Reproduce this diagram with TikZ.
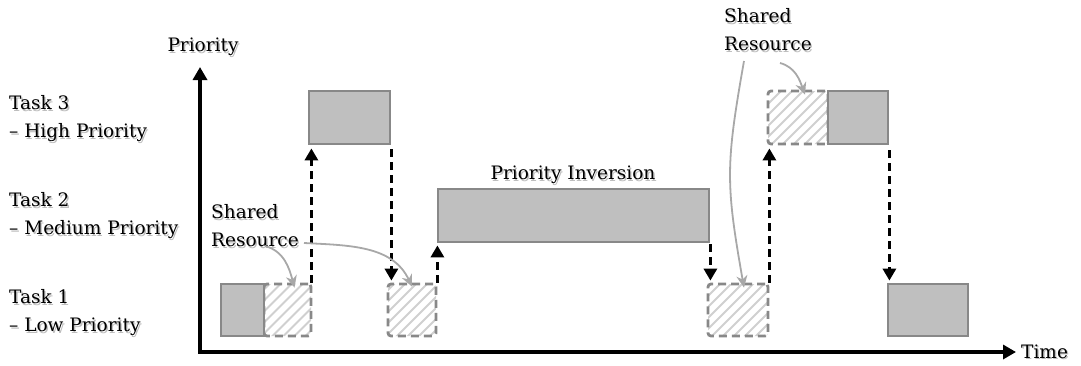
\documentclass[tikz,border=0pt]{standalone}
\usepackage{fontspec}
\setmainfont{DejaVu Serif}
\usetikzlibrary{arrows.meta}

\definecolor{boxfill}{HTML}{BFBFBF}
\definecolor{boxline}{HTML}{888888}
\definecolor{hatchcol}{HTML}{D0D0D0}
\definecolor{ptrcol}{HTML}{A8A8A8}
\definecolor{shadowcol}{HTML}{BDBDBD}

% text with a soft drop shadow: #1 options, #2 name, #3 position, #4 text
\newcommand\shadowtext[4]{%
  \node[#1, text=shadowcol, xshift=1.3pt, yshift=-1.3pt] at #3 {#4};
  \node[#1] (#2) at #3 {#4};}

\begin{document}
\begin{tikzpicture}[x=1pt,y=-1pt,
  txt/.style={font=\fontsize{18.5}{28}\selectfont, inner sep=0pt, align=left},
  busy/.style={draw=boxline, fill=boxfill, line width=2.8pt, inner sep=0pt},
  shared/.style={draw=boxline, line width=2.8pt, dash pattern=on 8pt off 5pt,
    rounded corners=3pt, inner sep=0pt,
    path picture={\foreach \i in {-80,-69,...,80}
      \draw[hatchcol, solid, line width=2pt]
        ([xshift=\i pt, yshift=-10pt]path picture bounding box.south) -- ++(80pt,80pt);}},
  axis/.style={line width=3.8pt, -{Triangle[length=13pt,width=14pt]}},
  hop/.style={line width=3pt, dash pattern=on 8pt off 5pt,
    -{Triangle[length=12pt,width=13pt]}},
  ptr/.style={draw=ptrcol, line width=1.8pt, -{Stealth[length=12pt,width=11pt]}}]

\useasboundingbox (0,0) rectangle (1081,365);

% axes
\coordinate (origin) at (200,352);
\coordinate (ytop) at (200,67);
\coordinate (xend) at (1016,352);
\draw[axis] (origin) -- (ytop);
\draw[axis] ([xshift=-1.9pt]origin) -- (xend);
\shadowtext{txt}{ylab}{(203,47)}{Priority}
\shadowtext{txt, anchor=west}{xlab}{(1021,352)}{Time}

% task rows
\shadowtext{txt, anchor=west}{task3}{(9,119)}{Task 3\\– High Priority}
\shadowtext{txt, anchor=west}{task2}{(9,216)}{Task 2\\– Medium Priority}
\shadowtext{txt, anchor=west}{task1}{(9,313)}{Task 1\\– Low Priority}

% shared-resource sections (hatched)
\node[shared, minimum width=47pt, minimum height=52pt] (h1) at (287.5,310) {};
\node[shared, minimum width=48pt, minimum height=52pt] (h2) at (412,310) {};
\node[shared, minimum width=60pt, minimum height=52pt] (h3) at (738,310) {};
\node[shared, minimum width=60pt, minimum height=53pt] (h4) at (798,117.5) {};

% ordinary execution
\node[busy, minimum width=43pt, minimum height=52pt] (s1) at (242.5,310) {};
\node[busy, minimum width=81pt, minimum height=53pt] (s2) at (349.5,117.5) {};
\node[busy, minimum width=271pt, minimum height=53pt] (s3) at (573.5,215.5) {};
\node[busy, minimum width=60pt, minimum height=53pt] (s4) at (858,117.5) {};
\node[busy, minimum width=80pt, minimum height=52pt] (s5) at (928,310) {};

\shadowtext{txt}{inv}{(573,175)}{Priority Inversion}

% context switches
\draw[hop] ([xshift=-1pt]h1.north east) -- ([xshift=-1pt,yshift=-3pt]h1.north east |- s2.south);
\draw[hop] ([yshift=-4pt]s2.south east) -- ([yshift=2pt]s2.south east |- h2.north);
\draw[hop] ([xshift=0pt]h2.north east) -- ([yshift=-2pt]h2.north east |- s3.south);
\draw[hop] ([yshift=-1pt]s3.south east) -- ([yshift=2pt]s3.south east |- h3.north);
\draw[hop] (h3.north east) -- ([yshift=-3pt]h3.north east |- h4.south);
\draw[hop] ([yshift=-5pt]s4.south east) -- ([yshift=2pt]s4.south east |- s5.north);

% shared resource callouts
\shadowtext{txt, anchor=west}{sr1}{(211,226)}{Shared\\Resource}
\shadowtext{txt, anchor=west}{sr2}{(724,30)}{Shared\\Resource}
\coordinate (p1) at (265,246);
\coordinate (p2) at (304,243);
\coordinate (p3) at (780,63);
\coordinate (p4) at (744,61);
\draw[ptr] (p1) to[out=-15,in=105] ([xshift=7pt,yshift=-5pt]h1.north);
\draw[ptr] (p2) to[out=-3,in=115] ([yshift=-4pt]h2.north);
\draw[ptr] (p3) to[out=-15,in=110] ([xshift=7pt,yshift=-5pt]h4.north);
\draw[ptr] (p4) to[out=-100,in=100, looseness=1.2] ([xshift=6pt,yshift=-5pt]h3.north);
\end{tikzpicture}
\end{document}
